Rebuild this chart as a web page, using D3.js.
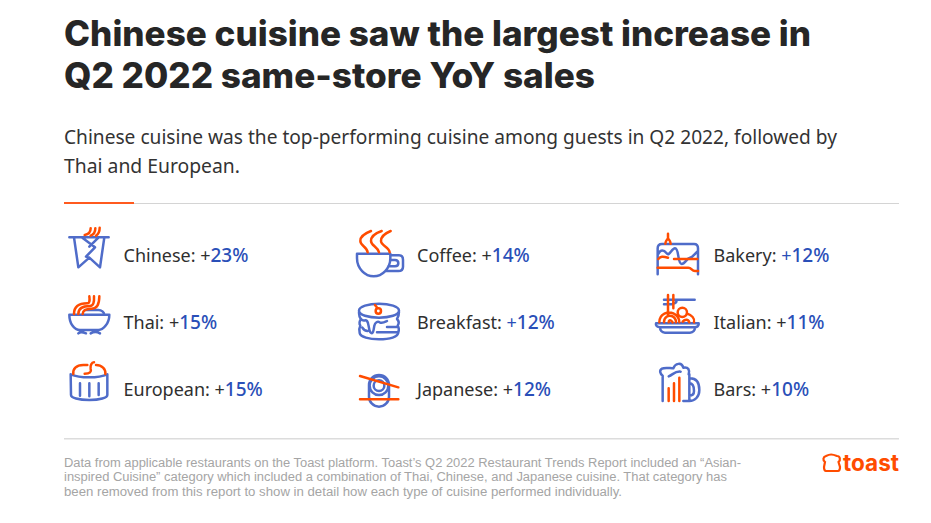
<!DOCTYPE html>
<html><head><meta charset="utf-8">
<script src="https://cdnjs.cloudflare.com/ajax/libs/d3/7.8.5/d3.min.js"></script>
<style>html,body{margin:0;padding:0;background:#fff}svg{display:block}</style></head>
<body><svg id="c" width="931" height="523"></svg>
<script>
const cuisines=["Chinese","Thai","European","Coffee","Breakfast","Japanese","Bakery","Italian","Bars"];
const changes=[23,15,15,14,12,12,12,11,10];
const columns=[0,0,0,1,1,1,2,2,2];
const rows=[0,1,2,0,1,2,0,1,2];
const bluePlus=["Breakfast","Bakery"];
const titleLines=["Chinese cuisine saw the largest increase in","Q2 2022 same-store YoY sales"];
const subLines=["Chinese cuisine was the top-performing cuisine among guests in Q2 2022, followed by","Thai and European."];
const noteLines=["Data from applicable restaurants on the Toast platform. Toast’s Q2 2022 Restaurant Trends Report included an “Asian-","inspired Cuisine” category which included a combination of Thai, Chinese, and Japanese cuisine. That category has","been removed from this report to show in detail how each type of cuisine performed individually."];
const BLUE="#4f6cc9",ORANGE="#ff4c00",VAL="#2a4fb8",INK="#2f2f2f";
const icons={
Chinese:{b:"M58 67H176M72 67L85 157L118 128L150 157L163 67M95 67L135 97L108 125L118 128M146 67L118 95",
 o:"M104 60C118 58 122 50 122 40M122 62C134 58 136 50 136 40M138 62C148 55 149 48 149 38"},
Thai:{b:"M58 299H178C178 325 160 345 145 345H90C72 345 58 325 58 299M85 355C90 350 100 352 108 355M122 355C130 350 142 350 150 355M105 285H145C155 285 162 292 163 299",
 o:"M72 297C72 275 85 265 112 265C118 265 120 258 118 244M85 297C85 282 95 273 120 273C130 273 133 262 132 244M98 297C98 285 108 281 125 281C142 281 148 268 148 244"},
European:{b:"M62 478C90 490 145 490 172 478V540C172 548 150 555 118 555C85 555 63 548 63 540ZM90 505V542M118 505V544M146 505V540",
 o:"M70 477C68 462 78 450 100 450H112M104 476C120 476 125 470 122 462C120 452 125 442 132 442M138 450C155 450 168 462 166 477"},
Coffee:{b:"M36 116H136V130C136 160 112 184 86 184C60 184 36 160 36 130ZM136 121H162C170 121 174 127 174 135V155C174 163 170 168 160 168H122M136 135H150C158 135 160 140 160 145C160 152 156 154 150 154H130",
 o:"M78 48C60 55 45 65 46 78C46 92 66 95 68 112M110 48C90 55 78 65 78 78C78 92 98 95 102 112M137 48C120 55 108 65 108 78C108 92 132 95 134 112"},
Breakfast:{b:"M42 287C42 275 70 266 102 266C134 266 162 275 162 287C162 300 134 308 102 308C70 308 42 300 42 287ZM42 290C42 300 44 308 48 312C42 320 42 326 46 332C42 340 42 348 44 354C46 366 72 373 102 373C134 373 160 366 160 352C162 346 162 338 158 332C162 326 162 318 156 312C160 306 162 298 162 290M48 312C56 322 60 312 66 318C72 324 70 342 76 352C84 362 86 345 88 332C90 322 98 318 104 322C112 326 118 322 126 318M126 336H158M52 338C56 345 62 348 68 348M96 352H158",
 o:"M90 270L97 279M108 288A8 8 0 1 1 92 288A8 8 0 1 1 108 288"},
Japanese:{b:"M72 510A30 30 0 0 1 132 510V545A30 30 0 0 1 72 545ZM130 512A28 28 0 1 1 74 512A28 28 0 1 1 130 512M118 512A16 16 0 1 1 86 512A16 16 0 1 1 118 512",
 o:"M45 483L160 517M45 553H160"},
Bakery:{b:"M53 178V100C53 92 58 87 66 87H162C170 87 174 92 174 100V178M53 120C62 100 72 105 80 115C88 125 95 100 105 100C118 100 112 147 125 147C135 147 140 130 150 128C160 126 165 115 174 108",
 o:"M84 56V72M76 86C76 78 82 74 84 70C86 74 92 78 92 86M102 132H172M55 132C62 124 68 124 84 128M53 158H145C155 158 155 168 165 168H174"},
Italian:{b:"M72 254H164M72 268H96M100 254C115 254 110 265 100 265M48 325H176C178 332 170 337 165 337C165 345 160 353 150 353H75C65 353 60 345 60 337C52 337 46 332 48 325ZM60 337H165",
 o:"M84 240V300M100 240V280M58 322C58 295 85 288 100 295C115 302 118 315 118 322M72 322C72 305 85 300 95 303C105 307 108 315 108 322M86 322C86 315 92 312 98 322M141 292A14 14 0 1 1 113 292A14 14 0 1 1 141 292M140 295C155 300 165 310 162 322M128 320C135 312 145 312 148 322"},
Bars:{b:"M68 558V482C60 476 57 466 66 461C75 456 90 460 100 460C105 445 125 440 130 458C145 455 150 465 146 478M148 478V558H130M150 490C175 490 178 510 178 525C178 545 165 558 148 558M148 505C162 505 162 520 162 528C162 535 158 542 148 542M122 470C105 468 100 478 86 484",
 o:"M86 520V558M102 505V558M118 488V558"}
};
const svg=d3.select("#c");

svg.selectAll("text.t").data(titleLines).join("text").attr("class","t")
 .attr("x",64).attr("y",(d,i)=>45.500+i*42.5).text(d=>d)
 .attr("font-family","Inter").attr("font-weight",800).attr("font-size",35).attr("fill","#262626")
 .attr("textLength",(d,i)=>[747,531][i]).attr("lengthAdjust","spacingAndGlyphs");
svg.selectAll("text.s").data(subLines).join("text").attr("class","s")
 .attr("x",64).attr("y",(d,i)=>144+i*29).text(d=>d)
 .attr("font-family","Noto Sans").attr("font-size",19.5).attr("fill","#333")
 .attr("textLength",(d,i)=>[773,176][i]).attr("lengthAdjust","spacingAndGlyphs");
svg.append("rect").attr("x",64).attr("y",203).attr("width",835).attr("height",1).attr("fill","#d4d4d4");
svg.append("rect").attr("x",64).attr("y",202).attr("width",70).attr("height",2).attr("fill","#ff5a1f");
svg.append("rect").attr("x",64).attr("y",438).attr("width",835).attr("height",1.5).attr("fill","#dcdcdc");

const colOrigin=d3.scaleOrdinal().domain([0,1,2]).range([50,345,640]);
const colText=d3.scaleOrdinal().domain([0,1,2]).range([123.5,417,713.5]);
const rowY=d3.scalePoint().domain([0,1,2]).range([261.5,395.5]);
const items=cuisines.map((c,i)=>({c,v:changes[i],col:columns[i],row:rows[i]}));

const ic=svg.selectAll("g.icon").data(items).join("g").attr("class","icon")
 .attr("transform",d=>`translate(${colOrigin(d.col)},215) scale(${1/3})`)
 .attr("fill","none").attr("stroke-width",7.5).attr("stroke-linecap","round").attr("stroke-linejoin","round");
ic.append("path").attr("d",d=>icons[d.c].b).attr("stroke",BLUE);
ic.append("path").attr("d",d=>icons[d.c].o).attr("stroke",ORANGE);

const lab=svg.selectAll("text.l").data(items).join("text").attr("class","l")
 .attr("x",d=>colText(d.col)).attr("y",d=>rowY(d.row))
 .attr("font-family","Noto Sans").attr("font-size",18).attr("fill",INK);
lab.append("tspan").text(d=>d.c+": ");
lab.append("tspan").text("+").attr("fill",d=>bluePlus.includes(d.c)?VAL:INK);
lab.append("tspan").text(d=>d.v+"%").attr("fill",VAL).attr("font-weight",500).attr("font-size",19);

svg.selectAll("text.n").data(noteLines).join("text").attr("class","n")
 .attr("x",64).attr("y",(d,i)=>467+i*14.3).text(d=>d)
 .attr("font-family","Liberation Sans").attr("font-size",12).attr("fill","#a5a5a5")
 .attr("textLength",(d,i)=>[677,663,558][i]).attr("lengthAdjust","spacingAndGlyphs");

svg.append("path").attr("d","M826 471H838C840 471 840 469 840 467L838.500 462C841 460 840 456 837 456C832 454 830 454 826 456C823 457 822.500 460 825 462L824 467C824 469 824 471 826 471Z")
 .attr("fill","none").attr("stroke",ORANGE).attr("stroke-width",2.2);
svg.append("text").attr("x",843).attr("y",471).text("toast")
 .attr("font-family","Inter").attr("font-weight",700).attr("font-size",23).attr("fill",ORANGE)
 .attr("textLength",56).attr("lengthAdjust","spacingAndGlyphs");
</script></body></html>
